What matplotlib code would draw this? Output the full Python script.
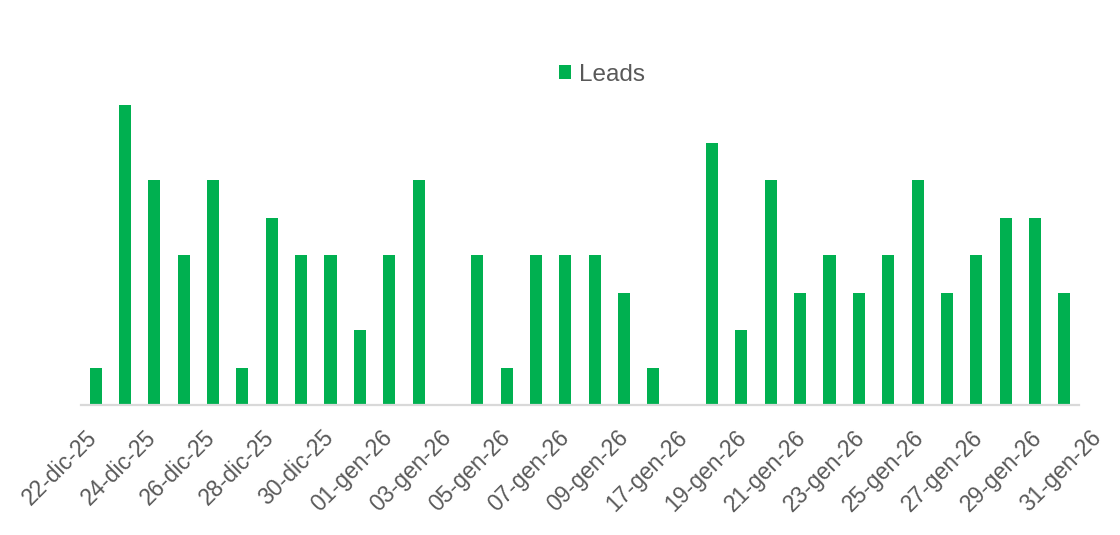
import matplotlib
matplotlib.use("Agg")
import matplotlib.pyplot as plt
import numpy as np

# Data
dates = (["22-dic-25", "23-dic-25", "24-dic-25", "25-dic-25", "26-dic-25",
          "27-dic-25", "28-dic-25", "29-dic-25", "30-dic-25", "31-dic-25"] +
         ["%02d-gen-26" % d for d in range(1, 10)] +
         ["%02d-gen-26" % d for d in range(17, 32)])
leads = [1, 8, 6, 4, 6, 1, 5, 4, 4, 2,
         4, 6, 0, 4, 1, 4, 4, 4, 3,
         1, 0, 7, 2, 6, 3, 4, 3, 4, 6, 3, 4, 5, 5, 3]
tick_labels = ["22-dic-25", "24-dic-25", "26-dic-25", "28-dic-25", "30-dic-25",
               "01-gen-26", "03-gen-26", "05-gen-26", "07-gen-26", "09-gen-26",
               "17-gen-26", "19-gen-26", "21-gen-26", "23-gen-26", "25-gen-26",
               "27-gen-26", "29-gen-26", "31-gen-26"]

GREEN = "#00B050"
TEXT = "#595959"
plt.rcParams['font.family'] = ['Liberation Sans', 'DejaVu Sans']

W, H = 1120, 535
fig = plt.figure(figsize=(W / 100, H / 100), dpi=100)
n = len(dates)
cat_w = (1079 - 81) / n
left, right = 81, 1079 + cat_w
bottom, top = 405, 105
ax = fig.add_axes([left / W, 1 - bottom / H, (right - left) / W, (bottom - top) / H])

x = np.arange(n)
bars = ax.bar(x, leads, width=0.41, color=GREEN, label="Leads", zorder=2)

ax.set_xlim(-0.5, n + 0.5)
ax.set_ylim(0, 8)
for s in ["top", "right", "left"]:
    ax.spines[s].set_visible(False)
ax.spines["bottom"].set_color("#D9D9D9")
ax.spines["bottom"].set_linewidth(1.6)
ax.spines["bottom"].set_bounds(-0.5, n - 0.5)
ax.set_yticks([])

step = 59.06 / cat_w
tick_pos = 0.2 + step * np.arange(len(tick_labels))
ax.set_xticks(tick_pos)
ax.set_xticklabels(tick_labels, rotation=45, ha="right", va="top",
                   fontsize=16.5, color=TEXT)
ax.tick_params(axis="x", length=0, pad=15)

fig.legend(handles=[bars], labels=["Leads"], loc="center",
           bbox_to_anchor=(602 / W, 1 - 75 / H), frameon=False,
           fontsize=17.5, labelcolor=TEXT, handlelength=0.5, handleheight=0.5,
           handletextpad=0.33)

fig.savefig("out.png", dpi=100)
